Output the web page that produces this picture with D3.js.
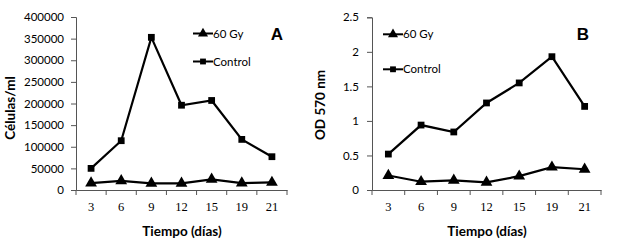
<!DOCTYPE html>
<html><head><meta charset="utf-8">
<script src="https://cdn.jsdelivr.net/npm/d3@7"></script>
<style>body{margin:0;background:#fff}svg{display:block}</style>
</head><body><svg id="c" width="618" height="242"></svg>
<script>
const days = ["3","6","9","12","15","19","21"];
const cellsControl = [50000,114000,353000,196000,207000,117000,77000];
const cells60Gy = [16000,21000,15500,15500,24500,16000,17500];
const odControl = [0.52,0.94,0.84,1.26,1.55,1.93,1.21];
const od60Gy = [0.21,0.12,0.14,0.11,0.20,0.33,0.30];
const cellTicks = [0,50000,100000,150000,200000,250000,300000,350000,400000];
const odTicks = [0,0.5,1,1.5,2,2.5];

const svg = d3.select("#c");
const sansF = "Lato, 'Open Sans', sans-serif";
const serifF = "'Liberation Serif', serif";

function panel(o){
  const g = svg.append("g");
  const x = d3.scaleBand().domain(days).range([o.x0,o.x1]).padding(0);
  const y = d3.scaleLinear().domain([0,o.ymax]).range([190,o.ytop]);
  const ya = g.append("g").attr("transform",`translate(${o.x0},0)`)
    .call(d3.axisLeft(y).tickValues(o.ticks).tickSize(5).tickPadding(o.tpad).tickFormat(o.fmt));
  ya.select(".domain").attr("stroke","#555").attr("stroke-width",1);
  ya.selectAll(".tick line").attr("stroke","#555");
  ya.selectAll("text").attr("font-family",sansF).attr("font-size",11.5).attr("fill","#000");
  const xa = g.append("g").attr("transform","translate(0,190)")
    .call(d3.axisBottom(x).tickSize(0).tickPadding(12).tickSizeOuter(0));
  xa.select(".domain").attr("stroke","#555");
  xa.selectAll("text").attr("font-family",serifF).attr("font-size",12.5).attr("fill","#000");
  const bounds = days.map(d=>x(d)).concat([x(days[days.length-1])+x.bandwidth()]);
  g.selectAll("line.bt").data(bounds).enter().append("line")
    .attr("x1",d=>d).attr("x2",d=>d).attr("y1",190).attr("y2",195).attr("stroke","#555");
  const cx = d=>x(d)+x.bandwidth()/2;
  const line = d3.line().x((v,i)=>cx(days[i])).y(v=>y(v));
  [[o.ctrl,d3.symbolSquare,46],[o.gy,d3.symbolTriangle,60]].forEach(([vals,sym,sz])=>{
    g.append("path").attr("d",line(vals)).attr("fill","none").attr("stroke","#000").attr("stroke-width",2.2);
    g.selectAll(null).data(vals).enter().append("path")
      .attr("d",d3.symbol().type(sym).size(sz))
      .attr("transform",(v,i)=>`translate(${cx(days[i])},${y(v)})`).attr("fill","#000");
  });
  const lg = [["60 Gy",d3.symbolTriangle,o.ly1,44],["Control",d3.symbolSquare,o.ly2,34]];
  lg.forEach(([t,sym,ly,sz])=>{
    g.append("line").attr("x1",o.lx).attr("x2",o.lx+20).attr("y1",ly).attr("y2",ly).attr("stroke","#000").attr("stroke-width",2);
    g.append("path").attr("d",d3.symbol().type(sym).size(sz)).attr("transform",`translate(${o.lx+10},${ly})`).attr("fill","#000");
    g.append("text").attr("x",o.lx+20).attr("y",ly+4).text(t).attr("font-family",sansF).attr("font-size",11.5).attr("fill","#000");
  });
  g.append("text").attr("x",o.lblx).attr("y",40).attr("text-anchor","middle").text(o.letter)
    .attr("font-family","'Liberation Sans', Arial, sans-serif").attr("font-weight","bold").attr("font-size",17);
  g.append("text").attr("x",o.xtx).attr("y",236).attr("text-anchor","middle").text("Tiempo (días)")
    .attr("font-family",sansF).attr("font-weight","bold").attr("font-size",13.5).attr("fill","#000");
  g.append("text").attr("transform",`translate(${o.ytx},${o.yty}) rotate(-90)`).attr("text-anchor","middle")
    .text(o.ylab).attr("font-family",sansF).attr("font-weight","bold").attr("font-size",13.5).attr("fill","#000");
}

panel({x0:76,x1:287,ymax:400000,ytop:17,ticks:cellTicks,tpad:7,fmt:d3.format("d"),
  ctrl:cellsControl,gy:cells60Gy,lx:193,ly1:33.5,ly2:61.5,lblx:277,letter:"A",
  xtx:182,ytx:15,yty:108,ylab:"Células/ml"});
panel({x0:372,x1:601,ymax:2.5,ytop:17.3,ticks:odTicks,tpad:8,fmt:d=>String(d),
  ctrl:odControl,gy:od60Gy,lx:383,ly1:34.3,ly2:69.3,lblx:583,letter:"B",
  xtx:487,ytx:325,yty:105,ylab:"OD 570 nm"});
</script></body></html>
